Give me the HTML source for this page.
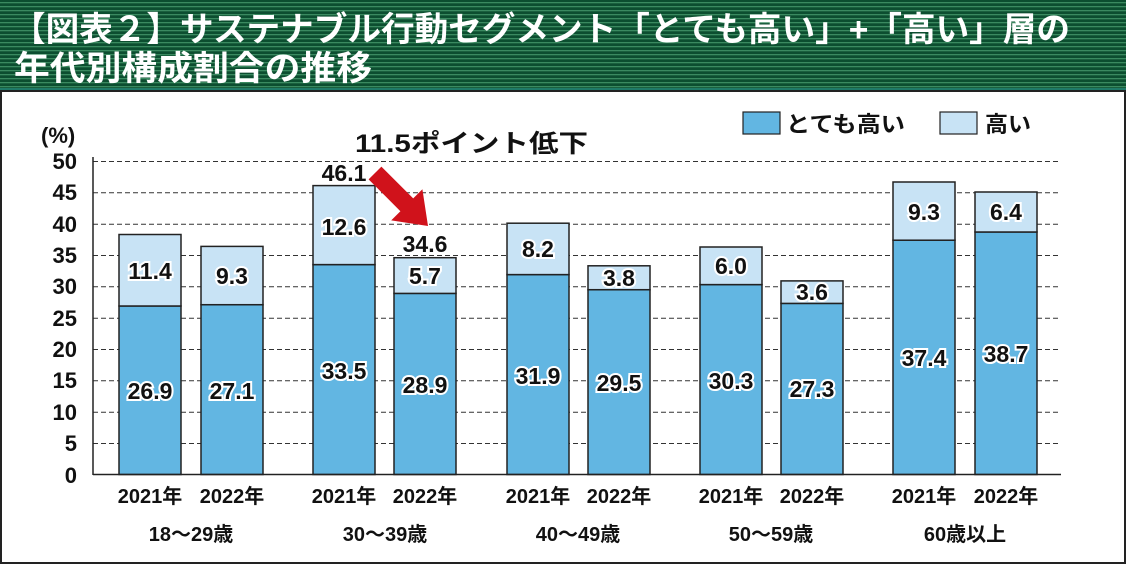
<!DOCTYPE html>
<html><head><meta charset="utf-8"><style>
body{margin:0;width:1126px;height:564px;overflow:hidden;background:#fff}
svg{display:block}
text{font-family:"Liberation Sans","Noto Sans CJK JP",sans-serif;font-weight:bold}
.v{font-size:23px;fill:#111;stroke:#fff;stroke-width:4px;paint-order:stroke;text-anchor:middle}
.t{font-size:23px;fill:#111;text-anchor:middle}
.ax{font-size:22px;fill:#111;text-anchor:end}
.xl{font-size:20px;fill:#111;text-anchor:middle}
</style></head><body>
<svg width="1126" height="564" viewBox="0 0 1126 564">
<defs>
<pattern id="st" width="4" height="4" patternUnits="userSpaceOnUse">
<rect width="4" height="4" fill="#0c4e30"/><rect y="2" width="4" height="1.3" fill="#3a8a60"/>
</pattern>
</defs>
<rect x="0" y="0" width="1126" height="90" fill="url(#st)"/>
<rect x="0" y="88" width="1126" height="3" fill="#1f7a68"/>
<text x="12" y="41" font-size="34" fill="#fff" textLength="1058" lengthAdjust="spacingAndGlyphs">【図表２】サステナブル行動セグメント「とても高い」+「高い」層の</text>
<text x="14" y="80" font-size="34" fill="#fff" textLength="358" lengthAdjust="spacingAndGlyphs">年代別構成割合の推移</text>
<rect x="1" y="91" width="1124" height="472" fill="none" stroke="#222" stroke-width="2"/>
<g stroke="#333" stroke-width="1" stroke-dasharray="5,3">
<line x1="93" x2="1061" y1="161.5" y2="161.5"/>
<line x1="93" x2="1061" y1="192.8" y2="192.8"/>
<line x1="93" x2="1061" y1="224.2" y2="224.2"/>
<line x1="93" x2="1061" y1="255.5" y2="255.5"/>
<line x1="93" x2="1061" y1="286.8" y2="286.8"/>
<line x1="93" x2="1061" y1="318.2" y2="318.2"/>
<line x1="93" x2="1061" y1="349.5" y2="349.5"/>
<line x1="93" x2="1061" y1="380.8" y2="380.8"/>
<line x1="93" x2="1061" y1="412.2" y2="412.2"/>
<line x1="93" x2="1061" y1="443.5" y2="443.5"/>
</g>
<g class="ax">
<text x="77" y="169">50</text><text x="77" y="200">45</text><text x="77" y="232">40</text>
<text x="77" y="263">35</text><text x="77" y="294">30</text><text x="77" y="326">25</text>
<text x="77" y="357">20</text><text x="77" y="388">15</text><text x="77" y="420">10</text>
<text x="77" y="451">5</text><text x="77" y="483">0</text>
</g>
<text x="41" y="143" font-size="22" fill="#111">(%)</text>
<g stroke="#222" stroke-width="1.5">
<rect x="119" y="306.0" width="62" height="168.5" fill="#62b6e2"/><rect x="119" y="234.5" width="62" height="71.5" fill="#c8e3f5"/>
<rect x="201" y="304.7" width="62" height="169.8" fill="#62b6e2"/><rect x="201" y="246.4" width="62" height="58.3" fill="#c8e3f5"/>
<rect x="313" y="264.6" width="62" height="209.9" fill="#62b6e2"/><rect x="313" y="185.6" width="62" height="79.0" fill="#c8e3f5"/>
<rect x="394" y="293.4" width="62" height="181.1" fill="#62b6e2"/><rect x="394" y="257.7" width="62" height="35.7" fill="#c8e3f5"/>
<rect x="507" y="274.6" width="62" height="199.9" fill="#62b6e2"/><rect x="507" y="223.2" width="62" height="51.4" fill="#c8e3f5"/>
<rect x="588" y="289.7" width="62" height="184.8" fill="#62b6e2"/><rect x="588" y="265.8" width="62" height="23.9" fill="#c8e3f5"/>
<rect x="700" y="284.6" width="62" height="189.9" fill="#62b6e2"/><rect x="700" y="247.0" width="62" height="37.6" fill="#c8e3f5"/>
<rect x="781" y="303.4" width="62" height="171.1" fill="#62b6e2"/><rect x="781" y="280.9" width="62" height="22.5" fill="#c8e3f5"/>
<rect x="893" y="240.2" width="62" height="234.3" fill="#62b6e2"/><rect x="893" y="182.0" width="62" height="58.2" fill="#c8e3f5"/>
<rect x="975" y="232.0" width="62" height="242.5" fill="#62b6e2"/><rect x="975" y="192.0" width="62" height="40.0" fill="#c8e3f5"/>
</g>
<line x1="93" y1="157" x2="93" y2="475" stroke="#222" stroke-width="1.5"/>
<line x1="93" x2="1061" y1="474.5" y2="474.5" stroke="#222" stroke-width="1.5"/>
<g class="v">
<text x="150" y="399">26.9</text><text x="150" y="279">11.4</text>
<text x="232" y="399">27.1</text><text x="232" y="284">9.3</text>
<text x="344" y="379">33.5</text><text x="344" y="235">12.6</text>
<text x="425" y="393">28.9</text><text x="425" y="284">5.7</text>
<text x="538" y="384">31.9</text><text x="538" y="257">8.2</text>
<text x="619" y="391">29.5</text><text x="619" y="286">3.8</text>
<text x="731" y="389">30.3</text><text x="731" y="274">6.0</text>
<text x="812" y="397">27.3</text><text x="812" y="300">3.6</text>
<text x="924" y="366">37.4</text><text x="924" y="220">9.3</text>
<text x="1006" y="362">38.7</text><text x="1006" y="220">6.4</text>
</g>
<text class="t" x="344" y="181">46.1</text>
<text class="t" x="425" y="252">34.6</text>
<text x="355" y="152" font-size="25" fill="#111" textLength="233" lengthAdjust="spacingAndGlyphs">11.5ポイント低下</text>
<polygon points="381.4,166.6 413.2,198.4 422.4,189.2 428,226 391.2,220.4 400.4,211.2 368.6,179.4" fill="#d0121b"/>
<rect x="743" y="112" width="37" height="22" fill="#62b6e2" stroke="#222" stroke-width="1.2"/>
<text x="786" y="132" font-size="22" fill="#111" textLength="119" lengthAdjust="spacingAndGlyphs">とても高い</text>
<rect x="940" y="112" width="37" height="22" fill="#c8e3f5" stroke="#222" stroke-width="1.2"/>
<text x="985" y="132" font-size="22" fill="#111" textLength="46" lengthAdjust="spacingAndGlyphs">高い</text>
<g class="xl">
<text x="150" y="503">2021年</text><text x="232" y="503">2022年</text>
<text x="344" y="503">2021年</text><text x="425" y="503">2022年</text>
<text x="538" y="503">2021年</text><text x="619" y="503">2022年</text>
<text x="731" y="503">2021年</text><text x="812" y="503">2022年</text>
<text x="924" y="503">2021年</text><text x="1006" y="503">2022年</text>
<text x="191" y="541">18～29歳</text><text x="385" y="541">30～39歳</text>
<text x="578" y="541">40～49歳</text><text x="771" y="541">50～59歳</text>
<text x="965" y="541">60歳以上</text>
</g>
</svg>
</body></html>
